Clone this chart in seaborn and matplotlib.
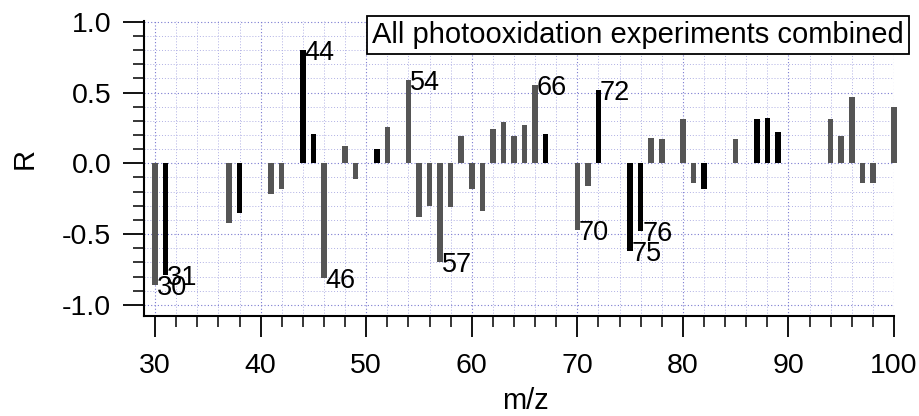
import matplotlib
matplotlib.use("Agg")
import matplotlib.pyplot as plt
from matplotlib.ticker import MultipleLocator, FormatStrFormatter
import numpy as np
import pandas as pd
import seaborn as sns

# m/z channels and their correlation coefficient R
mz = [30, 31, 37, 38, 41, 42, 44, 45, 46, 48, 49, 51, 52, 54, 55, 56, 57, 58,
      59, 60, 61, 62, 63, 64, 65, 66, 67, 70, 71, 72, 75, 76, 77, 78, 80, 81,
      82, 85, 87, 88, 89, 94, 95, 96, 97, 98, 100]
R = [-0.86, -0.79, -0.42, -0.35, -0.22, -0.18, 0.80, 0.21, -0.81, 0.12, -0.11,
     0.10, 0.26, 0.59, -0.38, -0.30, -0.70, -0.31, 0.19, -0.18, -0.34, 0.24,
     0.29, 0.19, 0.27, 0.55, 0.21, -0.47, -0.16, 0.52, -0.62, -0.48, 0.18,
     0.17, 0.31, -0.14, -0.18, 0.17, 0.31, 0.32, 0.22, 0.31, 0.19, 0.47,
     -0.14, -0.14, 0.40]
# channels drawn in black
highlighted = [31, 38, 44, 45, 51, 67, 72, 75, 76, 82, 87, 88, 89]
# channels annotated with their m/z
labelled = [30, 31, 44, 46, 54, 57, 66, 70, 72, 75, 76]

df = pd.DataFrame({"mz": mz, "R": R})
df["group"] = np.where(df["mz"].isin(highlighted), "highlighted", "other")

sns.set_style("ticks")
plt.rcParams["font.family"] = ["Liberation Sans", "DejaVu Sans"]
plt.rcParams.update({"text.color": "black", "axes.labelcolor": "black",
                     "xtick.color": "black", "ytick.color": "black"})

fig = plt.figure(figsize=(9.2, 4.16), dpi=100)
ax = fig.add_axes([144 / 920, 1 - 316 / 416, (894 - 144) / 920, (316 - 21) / 416])

sns.barplot(data=df, x="mz", y="R", hue="group", native_scale=True,
            orient="x", dodge=False, width=0.52, saturation=1,
            palette={"highlighted": "#000000", "other": "#555555"},
            linewidth=0, legend=False, ax=ax, zorder=3)
for p in ax.patches:
    p.set_clip_on(False)

for m, r in zip(mz, R):
    if m in labelled:
        ax.text(m + 0.15, r, str(m), ha="left", va="center_baseline",
                fontsize=19.5, color="black", zorder=4)

ax.set_xlim(28.95, 100)
ax.set_ylim(-1.078, 1.005)
ax.xaxis.set_major_locator(MultipleLocator(10))
ax.xaxis.set_minor_locator(MultipleLocator(2))
ax.yaxis.set_major_locator(MultipleLocator(0.5))
ax.yaxis.set_minor_locator(MultipleLocator(0.1))
ax.yaxis.set_major_formatter(FormatStrFormatter("%.1f"))

ax.grid(which="minor", color="#b0b0e4", ls=(0, (1, 2)), lw=0.7, zorder=0)
ax.grid(which="major", color="#7a7ad0", ls=(0, (1, 2)), lw=0.8, zorder=0)
ax.set_axisbelow(True)

sns.despine(ax=ax)
for s in ("left", "bottom"):
    ax.spines[s].set_linewidth(1.5)
    ax.spines[s].set_color("black")

ax.tick_params(which="major", length=15, width=1.3, color="black",
               labelsize=20.5, direction="out")
ax.tick_params(which="minor", length=8, width=1.1, color="black", direction="out")
ax.tick_params(axis="x", which="major", pad=11.5)
ax.tick_params(axis="y", which="major", pad=8.5)

ax.set_xlabel("m/z", fontsize=21, va="baseline")
ax.xaxis.set_label_coords(0.508, -0.314)
ax.set_ylabel("R", fontsize=21, va="center_baseline")
ax.yaxis.set_label_coords(-0.163, 0.533)

fig.text(638 / 920, 1 - 35 / 416, "All photooxidation experiments combined",
         ha="center", va="center", fontsize=21,
         bbox=dict(boxstyle="square,pad=0.18", fc="white", ec="black", lw=1.3))

fig.savefig("out.png", dpi=100)
